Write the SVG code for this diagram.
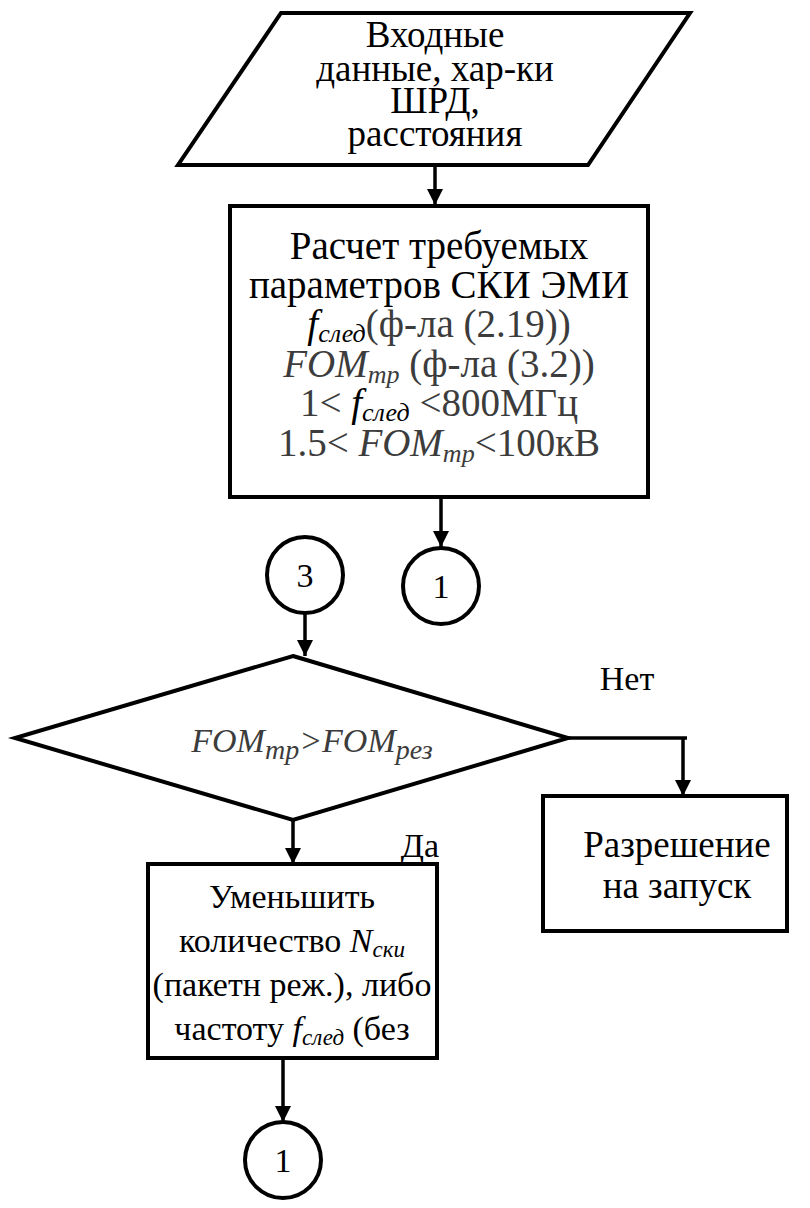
<svg xmlns="http://www.w3.org/2000/svg" width="810" height="1208" viewBox="0 0 810 1208">
<defs>
<style>
.sh{fill:#fff;stroke:#000;stroke-width:4;stroke-linejoin:miter}
.ln{fill:none;stroke:#000;stroke-width:3.5}
.t{font-family:"Liberation Serif","Times New Roman",serif;font-size:34px;fill:#000;text-anchor:middle}
.big{font-size:37px}
.xl{font-size:39px}
.g{fill:#3c3c3c}
.i{font-style:italic}
.sub{font-size:23px;font-style:italic}
.sb{font-size:26px;font-style:italic}
.sd{font-size:28px;font-style:italic}
</style>
<marker id="arb" viewBox="0 0 10 10" refX="10" refY="5" markerWidth="16" markerHeight="16" markerUnits="userSpaceOnUse" orient="auto">
<path d="M0,0 L10,5 L0,10 Z" fill="#000"/>
</marker>
</defs>
<rect width="810" height="1208" fill="#fff"/>

<g id="connectors">
<line class="ln" x1="435" y1="165" x2="435" y2="205" marker-end="url(#arb)"/>
<line class="ln" x1="441" y1="497" x2="441" y2="547" marker-end="url(#arb)"/>
<line class="ln" x1="305" y1="613" x2="305" y2="656" marker-end="url(#arb)"/>
<polyline class="ln" points="568,738 687,738"/>
<line class="ln" x1="683" y1="738" x2="683" y2="796" marker-end="url(#arb)"/>
<line class="ln" x1="293" y1="820" x2="293" y2="864" marker-end="url(#arb)"/>
<line class="ln" x1="283" y1="1058" x2="283" y2="1122" marker-end="url(#arb)"/>
<text class="t" x="627" y="690" font-size="37">Нет</text>
<text class="t" x="420" y="857" font-size="36">Да</text>
</g>

<g id="input">
<polygon class="sh" points="281,13 690,13 588,165 178,165"/>
<text class="t big" x="435" y="47">Входные</text>
<text class="t big" x="435" y="81">данные, хар-ки</text>
<text class="t big" x="435" y="113">ШРД,</text>
<text class="t big" x="435" y="146">расстояния</text>
</g>

<g id="calc">
<rect class="sh" x="230" y="206" width="418" height="291"/>
<text class="t xl" x="439" y="259">Расчет требуемых</text>
<text class="t xl" x="439" y="298">параметров СКИ ЭМИ</text>
<text class="t xl" x="439" y="337"><tspan class="i">f</tspan><tspan class="sb" dy="5">след</tspan><tspan class="g" dy="-5">(ф-ла (2.19))</tspan></text>
<text class="t xl g" x="439" y="377"><tspan class="i">FOM</tspan><tspan class="sb" dy="6">тр</tspan><tspan dy="-6"> (ф-ла (3.2))</tspan></text>
<text class="t xl" x="439" y="416"><tspan class="g">1&lt; </tspan><tspan class="i">f</tspan><tspan class="sb" dy="5">след</tspan><tspan class="g" dy="-5"> &lt;800МГц</tspan></text>
<text class="t xl g" x="439" y="456">1.5&lt; <tspan class="i">FOM</tspan><tspan class="sb" dy="6">тр</tspan><tspan dy="-6">&lt;100кВ</tspan></text>
</g>

<g id="conn1a">
<circle class="sh" cx="441" cy="586" r="38"/>
<text class="t" x="441" y="598" font-size="32">1</text>
</g>

<g id="conn3">
<circle class="sh" cx="305" cy="575" r="38"/>
<text class="t" x="305" y="587" font-size="32">3</text>
</g>

<g id="decision">
<polygon class="sh" points="293,656 568,738 293,820 15,738"/>
<text class="t g" x="312" y="752" font-size="43"><tspan class="i">FOM</tspan><tspan class="sd" dy="7">тр</tspan><tspan class="i" dy="-7">&gt;FOM</tspan><tspan class="sd" dy="7">рез</tspan></text>
</g>

<g id="launch">
<rect class="sh" x="543" y="796" width="244" height="135"/>
<text class="t big" x="677" y="857">Разрешение</text>
<text class="t big" x="677" y="898">на запуск</text>
</g>

<g id="reduce">
<rect class="sh" x="148" y="864" width="289" height="194"/>
<text class="t" x="292" y="908">Уменьшить</text>
<text class="t" x="292" y="952">количество <tspan class="i">N</tspan><tspan class="sub" dy="5">ски</tspan></text>
<text class="t" x="292" y="996">(пакетн реж.), либо</text>
<text class="t" x="292" y="1040">частоту <tspan class="i">f</tspan><tspan class="sub" dy="5">след</tspan><tspan dy="-5"> (без</tspan></text>
</g>

<g id="conn1b">
<circle class="sh" cx="283" cy="1160" r="38"/>
<text class="t" x="283" y="1172" font-size="32">1</text>
</g>
</svg>
